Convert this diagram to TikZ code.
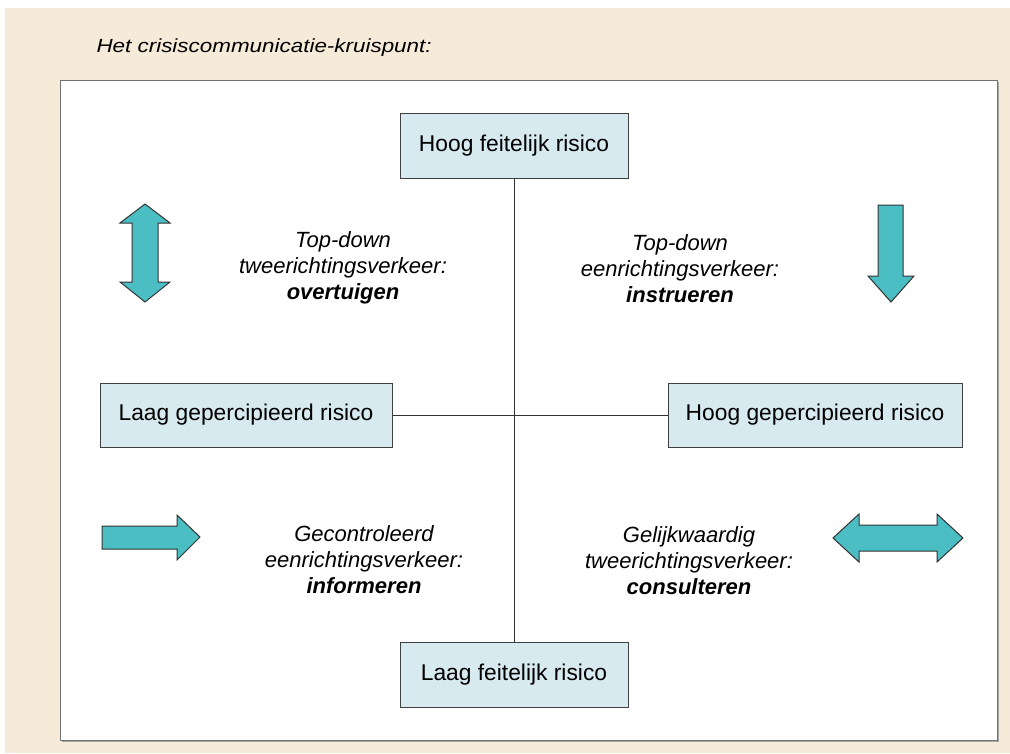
\documentclass[tikz,border=0pt]{standalone}
\usepackage{fontspec}
\setmainfont{Liberation Sans}
\usetikzlibrary{positioning}
\definecolor{paper}{HTML}{F6EAD8}
\definecolor{boxblue}{HTML}{D7EAF0}
\definecolor{arrowteal}{HTML}{4BBEC3}
\tikzset{
  risk/.style={draw=black!75,fill=boxblue,line width=1pt,minimum height=65pt,
    inner sep=0pt,font=\fontsize{22.8}{26}\selectfont},
  quad/.style={align=center,font=\fontsize{22}{26}\selectfont\itshape},
  fatarrow/.style={draw=black!80,fill=arrowteal,line width=1pt,line join=miter}
}
\begin{document}
\begin{tikzpicture}[x=1pt,y=-1pt]
\useasboundingbox (0,0) rectangle (1010,753);
\fill[paper] (5,8) rectangle (1010,753);
\node[anchor=west,font=\fontsize{19}{22}\selectfont\itshape] (title) at (93,48) {\scalebox{1.18}[1]{Het crisiscommunicatie-kruispunt:}};
% frame
\fill[black!35] (62,82) rectangle (999,742);
\draw[fill=white,draw=black!55,line width=.8pt] (60,80) rectangle (997,740);

\node[risk,minimum width=228pt] (hf) at (514,146) {Hoog feitelijk risico};
\node[risk,minimum width=228pt] (lf) at (514,675) {Laag feitelijk risico};
\node[risk,minimum width=292pt,minimum height=64pt] (lg) at (246,415) {Laag gepercipieerd risico};
\node[risk,minimum width=294pt,minimum height=64pt] (hg) at (815,415) {Hoog gepercipieerd risico};
\draw[line width=.9pt,black!80] (hf) -- (lf);
\draw[line width=.9pt,black!80] (lg) -- (hg);

\node[quad] (tl) at (343,268) {Top-down\\tweerichtingsverkeer:\\\textbf{overtuigen}};
\node[quad] (tr) at (680,269) {Top-down\\eenrichtingsverkeer:\\\textbf{instrueren}};
\node[quad] (bl) at (364,560) {Gecontroleerd\\eenrichtingsverkeer:\\\textbf{informeren}};
\node[quad] (br) at (689,561) {Gelijkwaardig\\tweerichtingsverkeer:\\\textbf{consulteren}};

% arrows
\draw[fatarrow] (145,204) -- (170,223) -- (158,223) -- (158,282) -- (170,282) -- (145,302)
  -- (120,282) -- (132,282) -- (132,223) -- (120,223) -- cycle;
\draw[fatarrow] (878,205) -- (903,205) -- (903,276) -- (914,276) -- (891,302)
  -- (868,276) -- (878,276) -- cycle;
\draw[fatarrow] (102,526) -- (177,526) -- (177,515) -- (200,537) -- (177,560)
  -- (177,549) -- (102,549) -- cycle;
\draw[fatarrow] (833,538) -- (859,514) -- (859,525) -- (937,525) -- (937,514)
  -- (963,538) -- (937,562) -- (937,551) -- (859,551) -- (859,562) -- cycle;
\end{tikzpicture}
\end{document}
